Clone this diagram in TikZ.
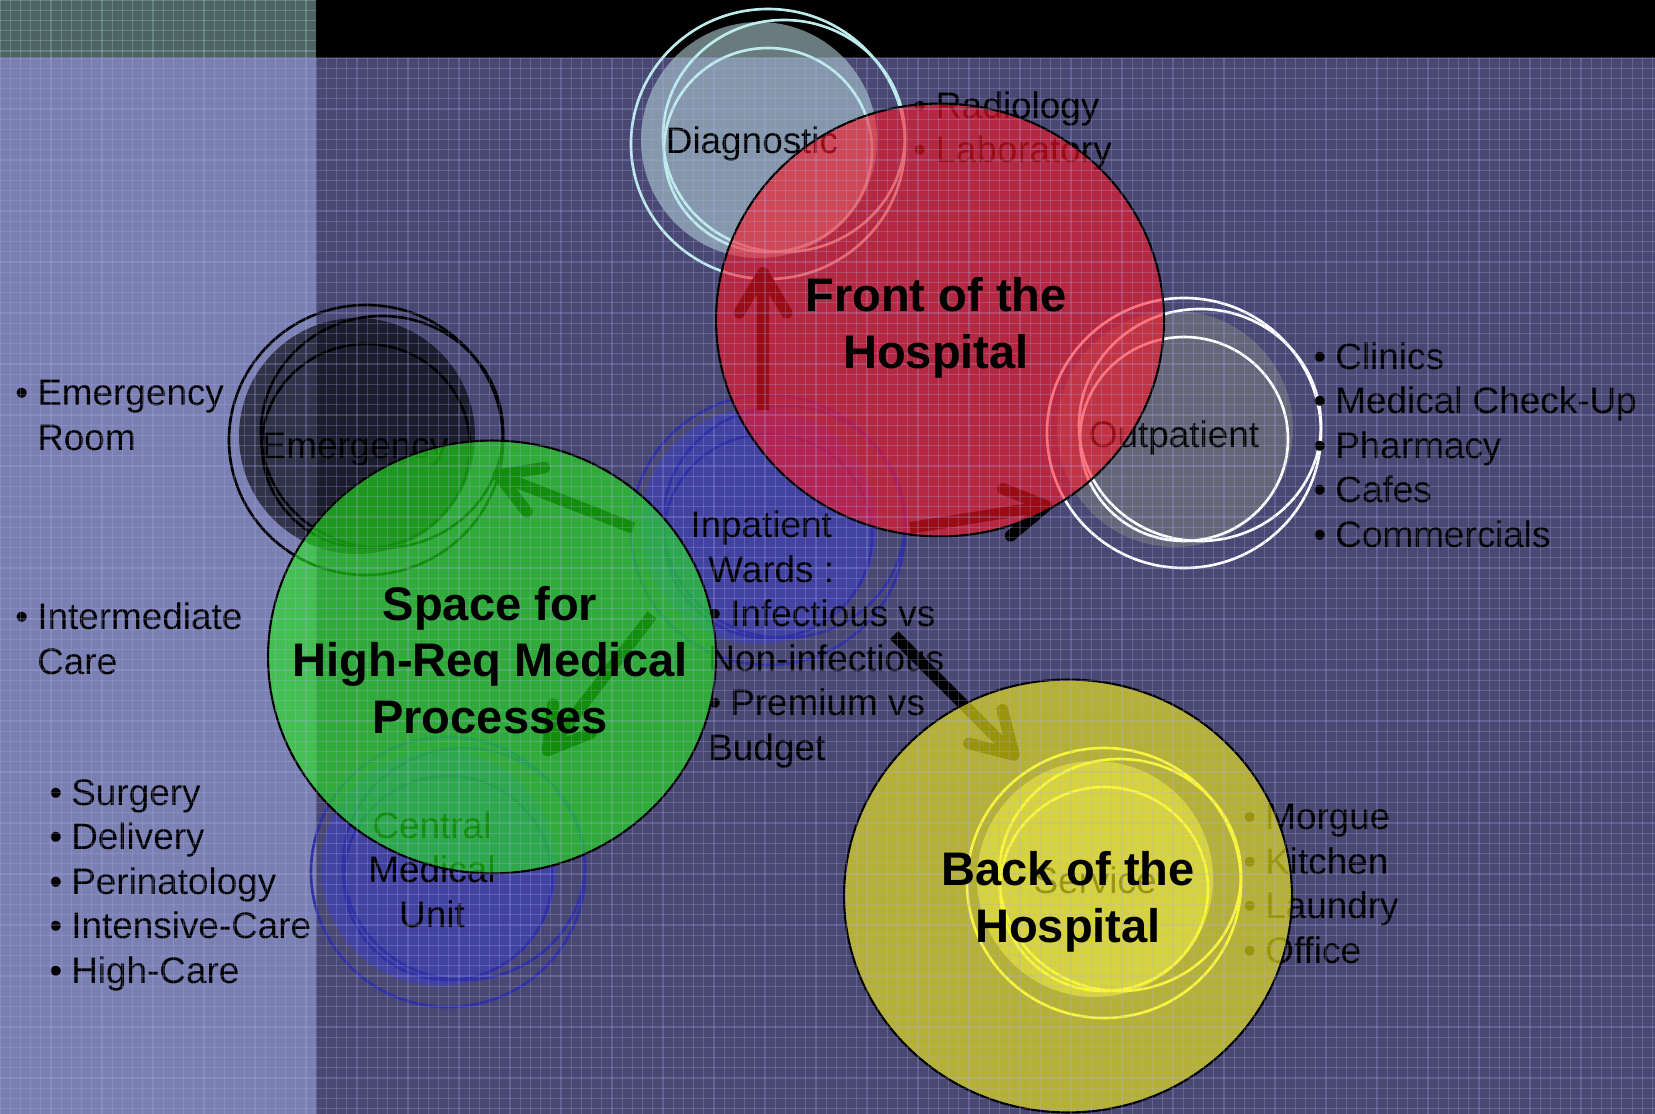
\documentclass[tikz,border=0pt]{standalone}
\usepackage{fontspec}
\setmainfont{Liberation Sans}
\usetikzlibrary{arrows.meta,shapes.geometric}

\definecolor{bgright}{RGB}{72,72,114}
\definecolor{bgleft}{RGB}{122,128,178}
\definecolor{bgtop}{RGB}{78,100,100}
\definecolor{gridcol}{RGB}{175,175,245}
\definecolor{topgridcol}{RGB}{170,225,220}
\definecolor{frontred}{RGB}{255,20,34}
\definecolor{spacegreen}{RGB}{32,236,20}
\definecolor{backyellow}{RGB}{255,248,16}
\definecolor{diagline}{RGB}{190,236,236}
\definecolor{diagfill}{RGB}{175,205,210}
\definecolor{wardblue}{RGB}{48,48,165}
\definecolor{wardfill}{RGB}{64,64,185}
\definecolor{servline}{RGB}{242,242,128}
\definecolor{servfill}{RGB}{240,240,150}

% bullet box and indent for the lists
\newcommand{\bul}{\makebox[0.44cm][l]{\textbullet}}
\newcommand{\ind}{\hspace*{0.44cm}}
% hand drawn looking circle: shaded disk plus three outlines
\newcommand{\sketchring}[4]{%
	\fill[#3] (#1-13,#2-4) circle [radius=118];
	\draw[#4] (#1-4,#2) ellipse [x radius=137, y radius=135];
	\draw[#4] (#1+12,#2-8) ellipse [x radius=121, y radius=116];
	\draw[#4] (#1-4,#2+6) ellipse [x radius=104, y radius=102];
}

\begin{document}
\begin{tikzpicture}[x=0.02cm,y=-0.02cm]
	\tikzstyle{lst}=[font=\fontsize{21}{25.3}\selectfont, align=left, inner sep=0pt, anchor=base west]
	\tikzstyle{lbl}=[font=\fontsize{21}{25.3}\selectfont, align=center, inner sep=0pt, anchor=base]
	\tikzstyle{ttl}=[font=\fontsize{26.8}{32.2}\selectfont\bfseries, align=center, inner sep=0pt]
	\tikzstyle{big}=[ellipse, draw=black, line width=1.2pt, minimum width=8.96cm, minimum height=8.66cm, fill opacity=0.6]
	\tikzstyle{flow}=[line width=6.6pt, -{Straight Barb[length=0.8cm,width=0.95cm,round]}]
	\tikzstyle{gridln}=[line width=0.6pt, draw=gridcol, opacity=0.25]
	\tikzstyle{ringln}=[line width=1.5pt]

	\useasboundingbox (0,0) rectangle (1655,1114);

	% background
	\fill[bgright] (0,58) rectangle (1655,1114);
	\fill[bgleft] (0,58) rectangle (316,1114);
	\fill[bgtop] (0,0) rectangle (316,58);
	\fill[black] (316,0) rectangle (1655,58);

	% the small departments
	\sketchring{772}{144}{diagfill, opacity=0.6}{ringln, diagline}
	\sketchring{370}{440}{black, opacity=0.6}{ringln, black}
	\sketchring{1188}{433}{gray, opacity=0.55}{ringln, white}
	\sketchring{772}{530}{wardfill, opacity=0.65}{ringln, wardblue}
	\sketchring{452}{872}{wardfill, opacity=0.65}{ringln, wardblue}
	\sketchring{1108}{883}{servfill, opacity=0.5}{ringln, servline}

	% base of a multi-line node is its last line
	\node [lbl] (diag) at (752,154) {Diagnostic};
	\node [lbl] (emerg) at (355,458) {Emergency};
	\node [lbl] (outpat) at (1174,447) {Outpatient};
	\node [lbl] (serv) at (1095,893) {Service};
	\node [lbl] (cmu) at (432,927) {Central\\Medical\\Unit};
	\node [lst] (inpat) at (708,760) {\hspace*{-0.36cm}Inpatient\\Wards :\\\bul Infectious vs\\Non-infectious\\\bul Premium vs\\Budget};

	% lists
	\node [lst] (emlist) at (15,450) {\bul Emergency\\\ind Room};
	\node [lst] (imlist) at (15,674) {\bul Intermediate\\\ind Care};
	\node [lst] (cmulist) at (49,983) {\bul Surgery\\\bul Delivery\\\bul Perinatology\\\bul Intensive-Care\\\bul High-Care};
	\node [lst] (diaglist) at (913,163) {\bul Radiology\\\bul Laboratory};
	\node [lst] (outlist) at (1313,547) {\bul Clinics\\\bul Medical Check-Up\\\bul Pharmacy\\\bul Cafes\\\bul Commercials};
	\node [lst] (servlist) at (1243,963) {\bul Morgue\\\bul Kitchen\\\bul Laundry\\\bul Office};

	% arrows
	\coordinate (upfrom) at (763,410);
	\coordinate (upto) at (763,267);
	\coordinate (outfrom) at (910,528);
	\coordinate (outto) at (1052,505);
	\coordinate (emfrom) at (633,528);
	\coordinate (emto) at (493,473);
	\coordinate (cmufrom) at (652,615);
	\coordinate (cmuto) at (544,755);
	\coordinate (svfrom) at (894,635);
	\coordinate (svto) at (1018,759);
	\draw[flow] (upfrom) -- (upto);
	\draw[flow] (outfrom) -- (outto);
	\draw[flow] (emfrom) -- (emto);
	\draw[flow] (cmufrom) -- (cmuto);
	\draw[flow] (svfrom) -- (svto);

	% the three big zones
	\node [big, fill=frontred] (front) at (940,320) {};
	\node [big, fill=spacegreen] (space) at (492,657) {};
	\node [big, fill=backyellow] (back) at (1068,896) {};

	% texture
	\foreach \gx in {0,10.2,...,1655} \draw[gridln] (\gx,58) -- (\gx,1114);
	\foreach \gy in {58,68.2,...,1114} \draw[gridln] (0,\gy) -- (1655,\gy);
	\foreach \gx in {0,10.2,...,316} \draw[gridln, draw=topgridcol] (\gx,0) -- (\gx,58);
	\foreach \gy in {0,10.2,...,58} \draw[gridln, draw=topgridcol] (0,\gy) -- (316,\gy);

	\node [ttl] (fronttxt) at (936,328) {Front of the\\Hospital};
	\node [ttl] (spacetxt) at (490,660) {Space for\\High-Req Medical\\Processes};
	\node [ttl] (backtxt) at (1068,902) {Back of the\\Hospital};
\end{tikzpicture}
\end{document}
